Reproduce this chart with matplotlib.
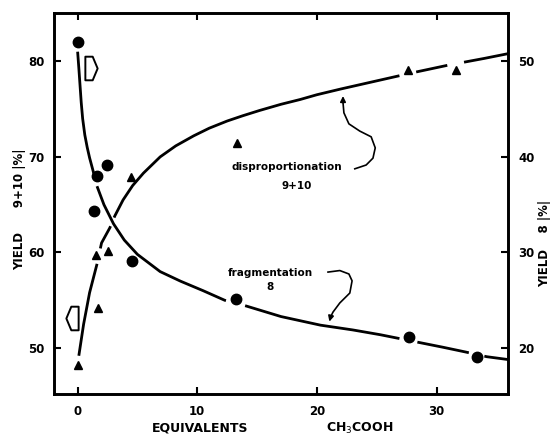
import matplotlib
matplotlib.use("Agg")
import matplotlib.pyplot as plt
from matplotlib.path import Path
import numpy as np

# ---- data ----
# disproportionation 9+10 (left axis, triangles)
tri_x = [0, 1.53, 1.73, 2.57, 4.44, 13.3, 27.6, 31.6]
tri_y = [48.25, 59.7, 54.2, 60.15, 67.9, 71.5, 79.1, 79.1]
# fragmentation 8 (right axis, circles)
circ_x = [0, 1.59, 2.43, 1.37, 4.53, 13.24, 27.7, 33.4]
circ_y = [52.0, 38.0, 39.2, 34.3, 29.1, 25.15, 21.2, 19.1]

# hand-drawn fit curves
disp_curve_x = [0.1, 0.5, 1.0, 1.6, 2.0, 2.7, 3.1, 3.8, 4.6, 5.5, 6.9, 8.2,
                9.7, 11.0, 12.5, 13.8, 15.2, 17.0, 18.6, 20.0, 22, 25, 28,
                31, 34, 36]
disp_curve_y = [49.2, 52.5, 55.8, 58.7, 61.0, 62.6, 63.8, 65.5, 67.0, 68.3,
                70.0, 71.15, 72.2, 73.0, 73.75, 74.3, 74.85, 75.5, 76.0, 76.5,
                77.1, 77.95, 78.8, 79.6, 80.3, 80.8]
disp_gaps = [(1.62, 1.9), (2.75, 3.05), (26.9, 28.3), (30.9, 32.3)]

frag_curve_x = [0, 0.1, 0.2, 0.3, 0.42, 0.6, 0.8, 1.0, 1.3, 1.6, 2.2, 3.0,
                3.9, 5.0, 6.9, 8.6, 10.5, 12.3, 14.1, 17, 20.3, 23, 25.3,
                28.5, 30.5, 32.4, 34.2, 36]
frag_curve_y = [51.0, 49.3, 47.5, 45.7, 44.0, 42.3, 41.0, 39.9, 38.5, 37.0,
                35.0, 33.0, 31.3, 29.8, 28.0, 27.0, 26.0, 25.0, 24.4, 23.3,
                22.4, 21.9, 21.4, 20.6, 20.1, 19.6, 19.1, 18.8]
frag_gaps = [(1.35, 1.62), (12.4, 14.0), (26.9, 28.4), (32.7, 34.0)]

x_ticks = [0, 10, 20, 30]
left_ticks = [50, 60, 70, 80]
right_ticks = [20, 30, 40, 50]


def segments(xs, ys, gaps):
    xs = np.asarray(xs, float)
    ys = np.asarray(ys, float)
    cuts = sorted([g for gap in gaps for g in gap])
    allx = np.unique(np.concatenate([xs, cuts]))
    ally = np.interp(allx, xs, ys)
    segs = []
    bounds = [xs[0]] + cuts + [xs[-1]]
    for i in range(0, len(bounds), 2):
        a, b = bounds[i], bounds[i + 1]
        m = (allx >= a) & (allx <= b)
        segs.append((allx[m], ally[m]))
    return segs


fig = plt.figure(figsize=(5.54, 4.37), dpi=100)
ax = fig.add_axes([0.0978, 0.0984, 0.9175 - 0.0978, 0.9703 - 0.0984])
ax2 = ax.twinx()

ax.set_xlim(-1.96, 36.0)
ax.set_ylim(45.2, 85.05)
ax2.set_ylim(15.2, 55.05)

for sx, sy in segments(disp_curve_x, disp_curve_y, disp_gaps):
    ax.plot(sx, sy, color='black', lw=2.0, solid_capstyle='butt')
for sx, sy in segments(frag_curve_x, frag_curve_y, frag_gaps):
    ax2.plot(sx, sy, color='black', lw=2.0, solid_capstyle='butt')

ax.plot(tri_x, tri_y, linestyle='none', marker='^', ms=6, color='black')
ax2.plot(circ_x, circ_y, linestyle='none', marker='o', ms=7.5, color='black')

for a in (ax, ax2):
    for s in a.spines.values():
        s.set_linewidth(1.9)

ax.set_xticks(x_ticks)
ax.set_yticks(left_ticks)
ax2.set_yticks(right_ticks)
tick_font = dict(fontsize=8.5, fontweight='bold')
ax.set_xticklabels([str(v) for v in x_ticks], **tick_font)
ax.set_yticklabels([str(v) for v in left_ticks], **tick_font)
ax2.set_yticklabels([str(v) for v in right_ticks], **tick_font)
ax.tick_params(axis='x', direction='in', length=5, width=1.5, top=True, pad=8)
ax.tick_params(axis='y', direction='in', length=5, width=1.5, pad=7)
ax2.tick_params(axis='y', direction='in', length=5, width=1.5, pad=7)

# axis labels
fig.text(20 / 554, 1 - 209 / 437, 'YIELD      9+10 |%|', rotation=90,
         ha='center', va='center', fontsize=8.5, fontweight='bold')
fig.text(545 / 554, 1 - 243 / 437, 'YIELD    8 |%|', rotation=90,
         ha='center', va='center', fontsize=8.5, fontweight='bold')
fig.text(200 / 554, 1 - 428 / 437, 'EQUIVALENTS', ha='center', va='center',
         fontsize=9, fontweight='bold')
fig.text(360 / 554, 1 - 428 / 437, 'CH$_3$COOH', ha='center', va='center',
         fontsize=9, fontweight='bold')

# annotations
ax.text(0.513, 0.596, 'disproportionation', transform=ax.transAxes,
        ha='center', va='center', fontsize=7.5, fontweight='bold')
ax.text(0.533, 0.546, '9+10', transform=ax.transAxes,
        ha='center', va='center', fontsize=7.5, fontweight='bold')
ax.text(0.477, 0.318, 'fragmentation', transform=ax.transAxes,
        ha='center', va='center', fontsize=7.5, fontweight='bold')
ax.text(0.475, 0.281, '8', transform=ax.transAxes,
        ha='center', va='center', fontsize=7.5, fontweight='bold')

disp_arrow = [(0.662, 0.591), (0.687, 0.601), (0.702, 0.619), (0.707, 0.646),
              (0.698, 0.675), (0.673, 0.690), (0.649, 0.709), (0.638, 0.738),
              (0.636, 0.765)]
frag_arrow = [(0.603, 0.320), (0.629, 0.324), (0.649, 0.315), (0.656, 0.297),
              (0.651, 0.265), (0.629, 0.239), (0.614, 0.215), (0.609, 0.203)]
for path, tip in ((disp_arrow, (0.636, 0.782)), (frag_arrow, (0.606, 0.190))):
    px, py = zip(*path)
    ax.plot(px, py, color='black', lw=1.2, transform=ax.transAxes)
    ax.annotate('', xy=tip, xytext=path[-1], xycoords='axes fraction',
                textcoords='axes fraction',
                arrowprops=dict(arrowstyle='-|>', color='black', lw=1.2,
                                mutation_scale=8, shrinkA=0, shrinkB=0))

# open block arrows showing which axis each series uses
right_pts = [(-0.26, -0.5), (0.05, -0.5), (0.26, 0.0), (0.05, 0.5), (-0.26, 0.5),
             (-0.26, -0.5)]
left_pts = [(0.26, -0.5), (-0.05, -0.5), (-0.26, 0.0), (-0.05, 0.5), (0.26, 0.5),
            (0.26, -0.5)]
right_house = Path(right_pts, closed=True)
left_house = Path(left_pts, closed=True)
ax.plot([0.080], [0.856], marker=right_house, ms=17, mfc='white', mec='black',
        mew=1.4, transform=ax.transAxes, linestyle='none')
ax.plot([0.039], [0.199], marker=left_house, ms=17, mfc='white', mec='black',
        mew=1.4, transform=ax.transAxes, linestyle='none')

fig.savefig('out.png', dpi=100)
